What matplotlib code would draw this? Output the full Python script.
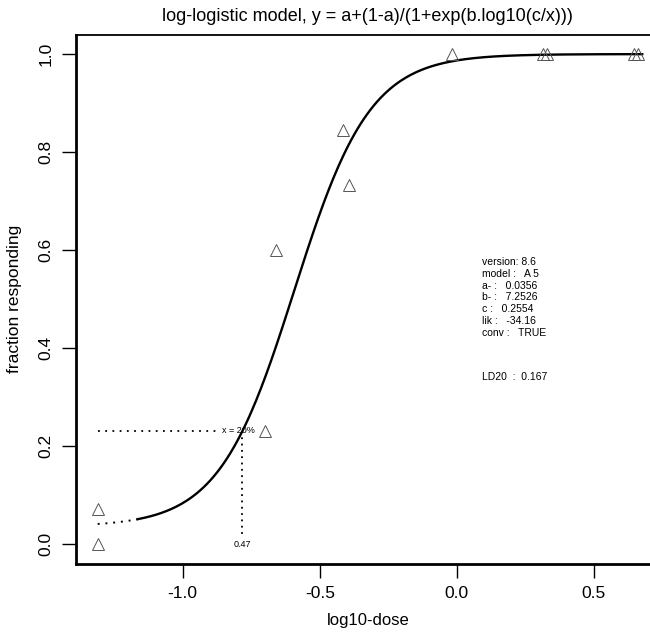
import matplotlib.pyplot as plt
import numpy as np

plt.rcParams['font.family'] = ['Liberation Sans', 'DejaVu Sans']
plt.rcParams['axes.unicode_minus'] = False

# observed points (log10 dose, fraction responding)
log_dose = [-1.31, -1.31, -0.70, -0.66, -0.417, -0.393, -0.019, 0.314, 0.328, 0.646, 0.661]
frac_resp = [0.071, 0.0, 0.231, 0.600, 0.845, 0.733, 1.0, 1.0, 1.0, 1.0, 1.0]

# fitted parameters printed on the chart
a_fit = 0.0356
b_fit = 7.2526
c_fit = 0.2554
info_lines = ['version: 8.6', 'model :   A 5', 'a- :   0.0356', 'b- :   7.2526',
              'c :   0.2554', 'lik :   -34.16', 'conv :   TRUE']
ld_text = 'LD20  :  0.167'
ld_log = -0.782
ld_level = 0.231
ld_label = '0.47'
solid_start = -1.164

x_ticks = [-1.0, -0.5, 0.0, 0.5]
y_ticks = [0.0, 0.2, 0.4, 0.6, 0.8, 1.0]

fig = plt.figure(figsize=(6.5, 6.34), dpi=100)
ax = fig.add_axes([76/650, (634-563.6)/634, (659.5-76)/650, (563.6-34.5)/634])

def model(lx):
    return a_fit + (1 - a_fit) / (1 + np.exp(b_fit * np.log10(c_fit / 10**lx)))

# dotted extrapolation at low dose, solid fitted curve after
xd = np.linspace(min(log_dose), solid_start, 30)
ax.plot(xd, model(xd), color='black', lw=1.4, linestyle=(0, (1, 3)))
xs = np.linspace(solid_start, max(log_dose) + 0.015, 300)
ax.plot(xs, model(xs), color='black', lw=1.7)

ax.plot(log_dose, frac_resp, linestyle='none', marker='^', markersize=8,
        markerfacecolor='none', markeredgecolor='#555555', markeredgewidth=0.7)

# LD20 guide lines
ax.plot([min(log_dose), ld_log - 0.085], [ld_level, ld_level], color='black', lw=1.3,
        linestyle=(0, (1, 3)))
ax.plot([ld_log, ld_log], [ld_level, 0.015], color='black', lw=1.3, linestyle=(0, (1, 2.5)))
ax.text(ld_log - 0.074, ld_level, 'x = 20%', fontsize=6.5, va='center', ha='left')
ax.text(ld_log, 0.0, ld_label, fontsize=6.5, va='center', ha='center')

for i, line in enumerate(info_lines):
    ax.text(0.09, 0.575 - i * 0.0239, line, fontsize=7.5, va='center', ha='left')
ax.text(0.09, 0.340, ld_text, fontsize=7.5, va='center', ha='left')

ax.set_xlim(-1.389, 0.739)
ax.set_ylim(-0.04, 1.04)
ax.set_xticks(x_ticks)
ax.set_xticklabels(['%.1f' % v for v in x_ticks])
ax.set_yticks(y_ticks)
ax.set_yticklabels(['%.1f' % v for v in y_ticks], rotation=90, va='center')
ax.tick_params(direction='out', length=10, width=1, labelsize=12.5, pad=6)
for s in ['left', 'bottom']:
    ax.spines[s].set_linewidth(2)
ax.spines['top'].set_linewidth(1.3)

ax.set_title('log-logistic model, y = a+(1-a)/(1+exp(b.log10(c/x)))', fontsize=13, pad=10)
ax.set_xlabel('log10-dose', fontsize=12, labelpad=9)
ax.set_ylabel('fraction responding', fontsize=12.5, labelpad=12)

fig.savefig('out.png', dpi=100)
